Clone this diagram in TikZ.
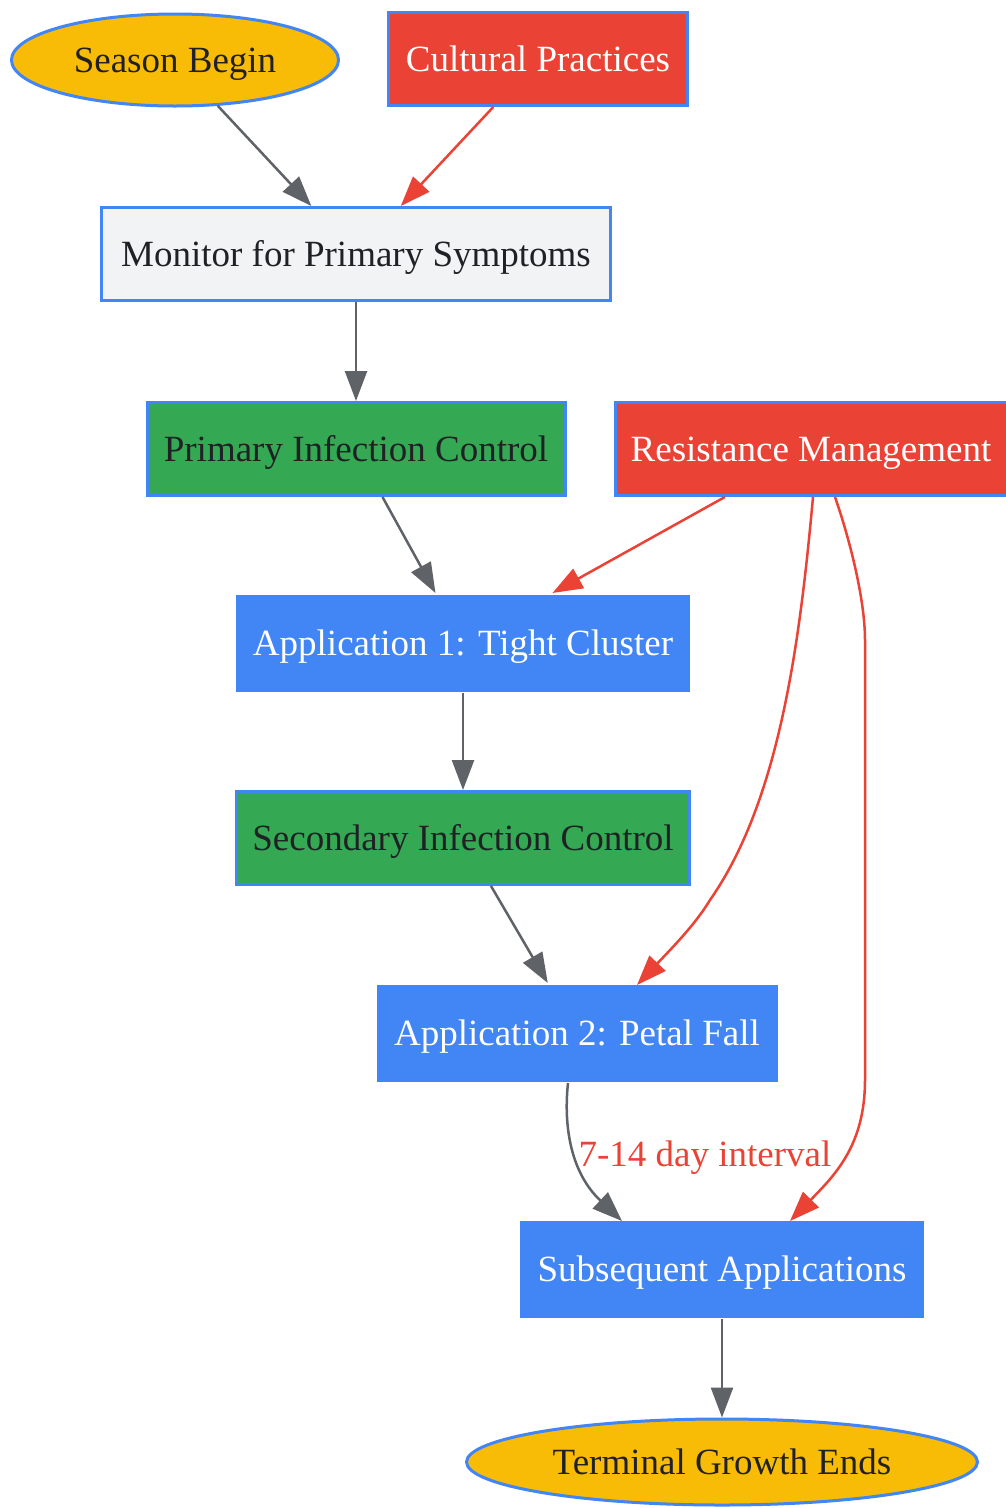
\documentclass[tikz,border=0pt]{standalone}
\usepackage{fontspec}
\setmainfont{Liberation Serif}
\usetikzlibrary{arrows.meta,shapes.geometric}
\definecolor{gyellow}{HTML}{F9BC06}
\definecolor{gred}{HTML}{EA4335}
\definecolor{gblue}{HTML}{4285F4}
\definecolor{ggreen}{HTML}{34A853}
\definecolor{ggray}{HTML}{F1F3F4}
\definecolor{edgegray}{HTML}{5F6368}
\definecolor{darktext}{HTML}{202124}
\tikzset{
  base/.style={font=\fontsize{37}{44}\selectfont, inner sep=0pt, line width=3pt, draw=gblue, text height=32pt, text depth=7pt},
  termnode/.style={base, ellipse, fill=gyellow, text=darktext},
  practice/.style={base, rectangle, fill=gred, text=white, minimum height=93pt},
  monitornode/.style={base, rectangle, fill=ggray, text=darktext, minimum height=93pt},
  controlnode/.style={base, rectangle, fill=ggreen, text=darktext, minimum height=93pt},
  appnode/.style={base, rectangle, fill=gblue, text=white, minimum height=97pt},
  flow/.style={line width=2.5pt, draw=edgegray, -{Triangle[length=30pt,width=22pt]}},
  redflow/.style={line width=2.5pt, draw=gred, -{Triangle[length=30pt,width=22pt]}},
  edgelabel/.style={font=\fontsize{37}{44}\selectfont, text=gred, inner sep=0pt}
}
\begin{document}
\begin{tikzpicture}[x=1pt,y=-1pt]
\useasboundingbox (0,0) rectangle (1006,1508);
\fill[white] (0,0) rectangle (1006,1508);

\node[termnode, minimum width=327pt, minimum height=92pt] (season) at (175,60) {Season Begin};
\node[practice, minimum width=299pt] (cultural) at (538,59) {Cultural Practices};
\node[monitornode, minimum width=509pt] (monitor) at (356,254) {Monitor for Primary Symptoms};
\node[controlnode, minimum width=418pt] (primary) at (356,449) {Primary Infection Control};
\node[practice, minimum width=392pt] (resist) at (811,449) {Resistance Management};
\node[appnode, minimum width=454pt, draw=none] (app1) at (463,643) {Application 1: Tight Cluster};
\node[controlnode, minimum width=453pt] (secondary) at (463,838) {Secondary Infection Control};
\node[appnode, minimum width=401pt, draw=none] (app2) at (577,1033) {Application 2: Petal Fall};
\node[appnode, minimum width=404pt, draw=none] (subseq) at (722,1269) {Subsequent Applications};
\node[termnode, minimum width=511pt, minimum height=86pt] (terminal) at (722,1462) {Terminal Growth Ends};

\draw[flow] (season) -- (monitor);
\draw[redflow] (cultural) -- (monitor);
\draw[flow] (monitor) -- (primary);
\draw[flow] (primary) -- (app1);
\draw[redflow] (resist) -- (app1);
\draw[flow] (app1) -- (secondary);
\draw[flow] (secondary) -- (app2);
\draw[redflow] ([xshift=2pt]resist.south) .. controls (800,640) and (780,800) .. (710,900)
  .. controls (695,925) and (670,950) .. ([xshift=60pt,yshift=-2pt]app2.north);
\draw[redflow] ([xshift=24pt]resist.south) .. controls (850,540) and (865,600) .. (865,640)
  -- (865,1080) .. controls (865,1145) and (835,1175) .. ([xshift=68pt,yshift=-2pt]subseq.north);
\draw[flow] ([xshift=-9pt]app2.south) .. controls (564,1120) and (568,1170) .. ([xshift=-100pt,yshift=-2pt]subseq.north)
  node[edgelabel, text height=26pt, text depth=8pt] (lbl) at (705,1157) {7-14 day interval};
\draw[flow] (subseq) -- (terminal);
\end{tikzpicture}
\end{document}
